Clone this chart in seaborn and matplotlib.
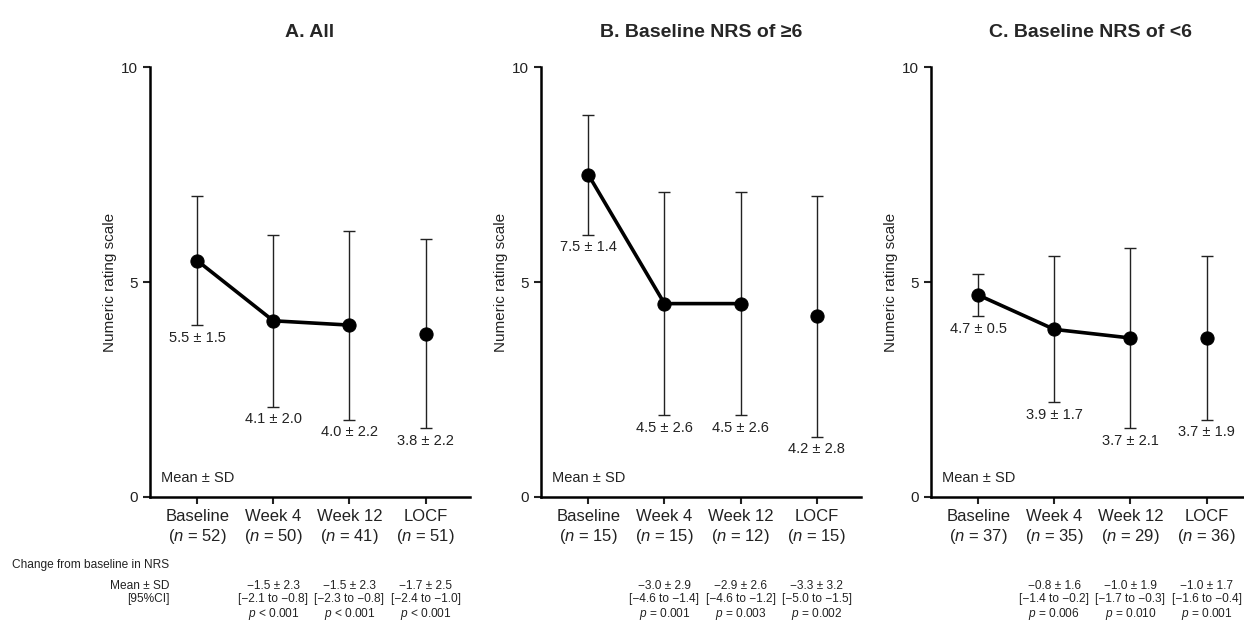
import matplotlib
matplotlib.use("Agg")
import matplotlib.pyplot as plt
import matplotlib.transforms as mtransforms
import seaborn as sns

# Data
timepoints = ["Baseline", "Week 4", "Week 12", "LOCF"]
panel_titles = ["A. All", "B. Baseline NRS of \u22656", "C. Baseline NRS of <6"]

mean_all = [5.5, 4.1, 4.0, 3.8]
sd_all = [1.5, 2.0, 2.2, 2.2]
n_all = [52, 50, 41, 51]

mean_high = [7.5, 4.5, 4.5, 4.2]
sd_high = [1.4, 2.6, 2.6, 2.8]
n_high = [15, 15, 12, 15]

mean_low = [4.7, 3.9, 3.7, 3.7]
sd_low = [0.5, 1.7, 2.1, 1.9]
n_low = [37, 35, 29, 36]

change_all = ["\u22121.5 \u00b1 2.3\n[\u22122.1 to \u22120.8]\n$\\it{p}$ < 0.001",
              "\u22121.5 \u00b1 2.3\n[\u22122.3 to \u22120.8]\n$\\it{p}$ < 0.001",
              "\u22121.7 \u00b1 2.5\n[\u22122.4 to \u22121.0]\n$\\it{p}$ < 0.001"]
change_high = ["\u22123.0 \u00b1 2.9\n[\u22124.6 to \u22121.4]\n$\\it{p}$ = 0.001",
               "\u22122.9 \u00b1 2.6\n[\u22124.6 to \u22121.2]\n$\\it{p}$ = 0.003",
               "\u22123.3 \u00b1 3.2\n[\u22125.0 to \u22121.5]\n$\\it{p}$ = 0.002"]
change_low = ["\u22120.8 \u00b1 1.6\n[\u22121.4 to \u22120.2]\n$\\it{p}$ = 0.006",
              "\u22121.0 \u00b1 1.9\n[\u22121.7 to \u22120.3]\n$\\it{p}$ = 0.010",
              "\u22121.0 \u00b1 1.7\n[\u22121.6 to \u22120.4]\n$\\it{p}$ = 0.001"]

panels = [
    (mean_all, sd_all, n_all, change_all),
    (mean_high, sd_high, n_high, change_high),
    (mean_low, sd_low, n_low, change_low),
]

sns.set_theme(style="ticks")
plt.rcParams['font.family'] = ['Liberation Sans', 'DejaVu Sans']
plt.rcParams['mathtext.fontset'] = 'custom'
plt.rcParams['mathtext.it'] = 'Liberation Sans:italic'
plt.rcParams['mathtext.rm'] = 'Liberation Sans'

fig = plt.figure(figsize=(12.44, 6.21), dpi=100)
lefts = [0.1206, 0.435, 0.7484]
ax_w, ax_b, ax_h = 0.257, 0.1997, 0.692

x_pos = list(range(len(timepoints)))

for k, (means, sds, ns, changes) in enumerate(panels):
    ax = fig.add_axes([lefts[k], ax_b, ax_w, ax_h])

    # connected line for Baseline -> Week 12, LOCF stands alone
    sns.lineplot(x=x_pos[:3], y=means[:3], ax=ax, color="black", lw=2.6)
    ax.errorbar(x_pos, means, yerr=sds, fmt="none", ecolor="#222222",
                elinewidth=1.0, capsize=4.5, capthick=1.0, zorder=2)
    sns.scatterplot(x=x_pos, y=means, ax=ax, color="black", s=90,
                    edgecolor="black", zorder=3)

    for i in x_pos:
        ax.annotate(f"{means[i]:.1f} \u00b1 {sds[i]:.1f}",
                    xy=(i, means[i] - sds[i]), xytext=(0, -4),
                    textcoords="offset points", ha="center", va="top",
                    fontsize=10.5, color="#222222")

    ax.set_xlim(-0.62, 3.58)
    ax.set_ylim(0, 10)
    ax.set_yticks([0, 5, 10])
    ax.set_xticks(x_pos)
    ax.set_xticklabels([f"{t}\n($\\it{{n}}$ = {n})" for t, n in zip(timepoints, ns)],
                       fontsize=12, color="#222222")
    ax.tick_params(axis="y", labelsize=11, length=5, width=1.5, colors="#222222")
    ax.tick_params(axis="x", length=5, width=1.5, pad=4, colors="#222222")
    ax.set_ylabel("Numeric rating scale", fontsize=11, color="#222222", labelpad=3)
    for side in ["left", "bottom"]:
        ax.spines[side].set_linewidth(1.8)
        ax.spines[side].set_color("black")
    sns.despine(ax=ax)
    ax.set_title(panel_titles[k], fontsize=14, fontweight="bold", pad=22)

    ax.text(0.035, 0.045, "Mean \u00b1 SD", transform=ax.transAxes,
            fontsize=10.5, color="#222222", ha="left", va="center")

    trans = mtransforms.blended_transform_factory(ax.transData, ax.transAxes)
    for j, txt in enumerate(changes):
        ax.text(x_pos[j + 1], -0.193, txt, transform=trans, ha="center",
                va="top", fontsize=8.6, color="#222222", linespacing=1.08)

fig.text(0.136, 0.09, "Change from baseline in NRS", ha="right", va="center",
         fontsize=8.6, color="#222222")
fig.text(0.136, 0.057, "Mean \u00b1 SD", ha="right", va="center",
         fontsize=8.6, color="#222222")
fig.text(0.136, 0.036, "[95%CI]", ha="right", va="center",
         fontsize=8.6, color="#222222")

fig.savefig("out.png", dpi=100)
